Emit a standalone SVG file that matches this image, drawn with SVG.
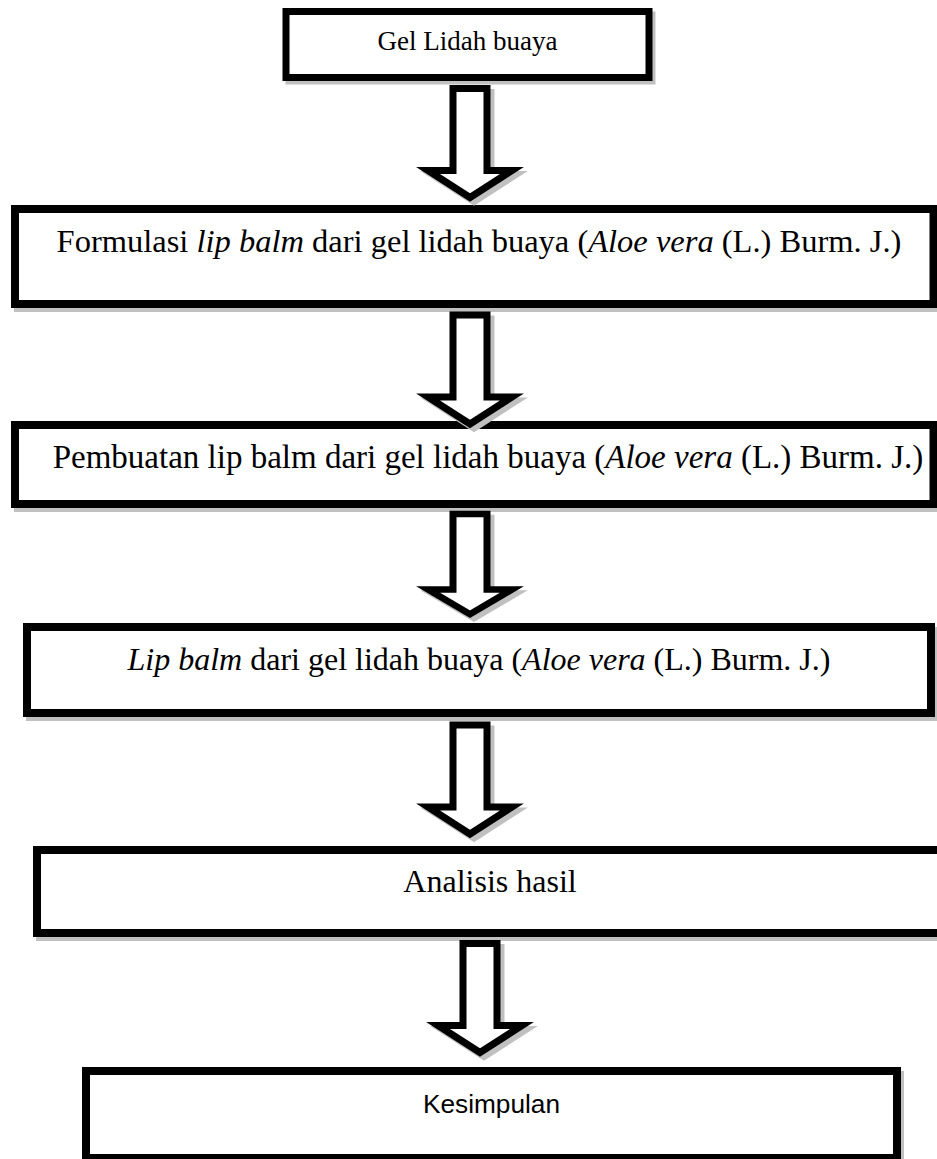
<svg xmlns="http://www.w3.org/2000/svg" width="937" height="1159" viewBox="0 0 937 1159">
<defs>
<style>
.box{fill:#ffffff;stroke:#000000;stroke-width:8}
.shadow{fill:none;stroke:#c0c0c0;stroke-width:8}
.arrow{fill:#ffffff;stroke:#000000;stroke-width:7;stroke-linejoin:miter;stroke-miterlimit:10}
.ashadow{fill:none;stroke:#c0c0c0;stroke-width:7;stroke-linejoin:miter;stroke-miterlimit:10}
.serif{font-family:"Liberation Serif","Times New Roman",serif;fill:#000000;text-anchor:middle}
.sans{font-family:"Liberation Sans",Arial,sans-serif;fill:#000000;text-anchor:middle}
</style>
<polygon id="arr" points="-17,0 17,0 17,82 42,82 0,109 -42,82 -17,82"/>
</defs>
<rect width="937" height="1159" fill="#ffffff"/>

<g id="node1">
<rect class="shadow" x="289" y="15" width="363" height="66" style="stroke-width:7"/>
<rect class="box" x="286" y="11.5" width="363" height="66" style="stroke-width:7"/>
<text class="serif" x="467.5" y="50" font-size="27">Gel Lidah buaya</text>
</g>

<g id="node2">
<rect class="shadow" x="18" y="213" width="918.5" height="95"/>
<rect class="box" x="15" y="209" width="918.5" height="95"/>
<text class="serif" x="479" y="252" font-size="32.5">Formulasi <tspan font-style="italic">lip balm</tspan> dari gel lidah buaya (<tspan font-style="italic">Aloe vera</tspan> (L.) Burm. J.)</text>
</g>

<g id="node3">
<rect class="shadow" x="18" y="429" width="918.5" height="79"/>
<rect class="box" x="15" y="425" width="918.5" height="79"/>
<text class="serif" x="488" y="468" font-size="33">Pembuatan lip balm dari gel lidah buaya (<tspan font-style="italic">Aloe vera</tspan> (L.) Burm. J.)</text>
</g>

<g id="node4">
<rect class="shadow" x="30" y="631" width="904" height="86"/>
<rect class="box" x="27" y="627" width="904" height="86"/>
<text class="serif" x="479" y="670" font-size="32"><tspan font-style="italic">Lip balm</tspan> dari gel lidah buaya (<tspan font-style="italic">Aloe vera</tspan> (L.) Burm. J.)</text>
</g>

<g id="node5">
<rect class="shadow" x="40" y="854" width="920" height="83"/>
<rect class="box" x="37" y="850" width="920" height="83"/>
<text class="serif" x="490" y="892" font-size="32">Analisis hasil</text>
</g>

<g id="node6">
<rect class="shadow" x="89" y="1075" width="811" height="87"/>
<rect class="box" x="86" y="1071" width="811" height="87"/>
<text class="sans" x="491.5" y="1113" font-size="26" textLength="137" lengthAdjust="spacingAndGlyphs">Kesimpulan</text>
</g>

<g id="connectors">
<g transform="translate(474,92.5)"><use href="#arr" class="ashadow"/></g>
<g transform="translate(470,88.5)"><use href="#arr" class="arrow"/></g>

<g transform="translate(474,319)"><use href="#arr" class="ashadow"/></g>
<g transform="translate(470,315)"><use href="#arr" class="arrow"/></g>

<g transform="translate(474,518) scale(1,0.92)"><use href="#arr" class="ashadow"/></g>
<g transform="translate(470,514) scale(1,0.92)"><use href="#arr" class="arrow"/></g>

<g transform="translate(474,729)"><use href="#arr" class="ashadow"/></g>
<g transform="translate(470,725)"><use href="#arr" class="arrow"/></g>

<g transform="translate(484,947.5)"><use href="#arr" class="ashadow"/></g>
<g transform="translate(480,943.5)"><use href="#arr" class="arrow"/></g>
</g>
</svg>
